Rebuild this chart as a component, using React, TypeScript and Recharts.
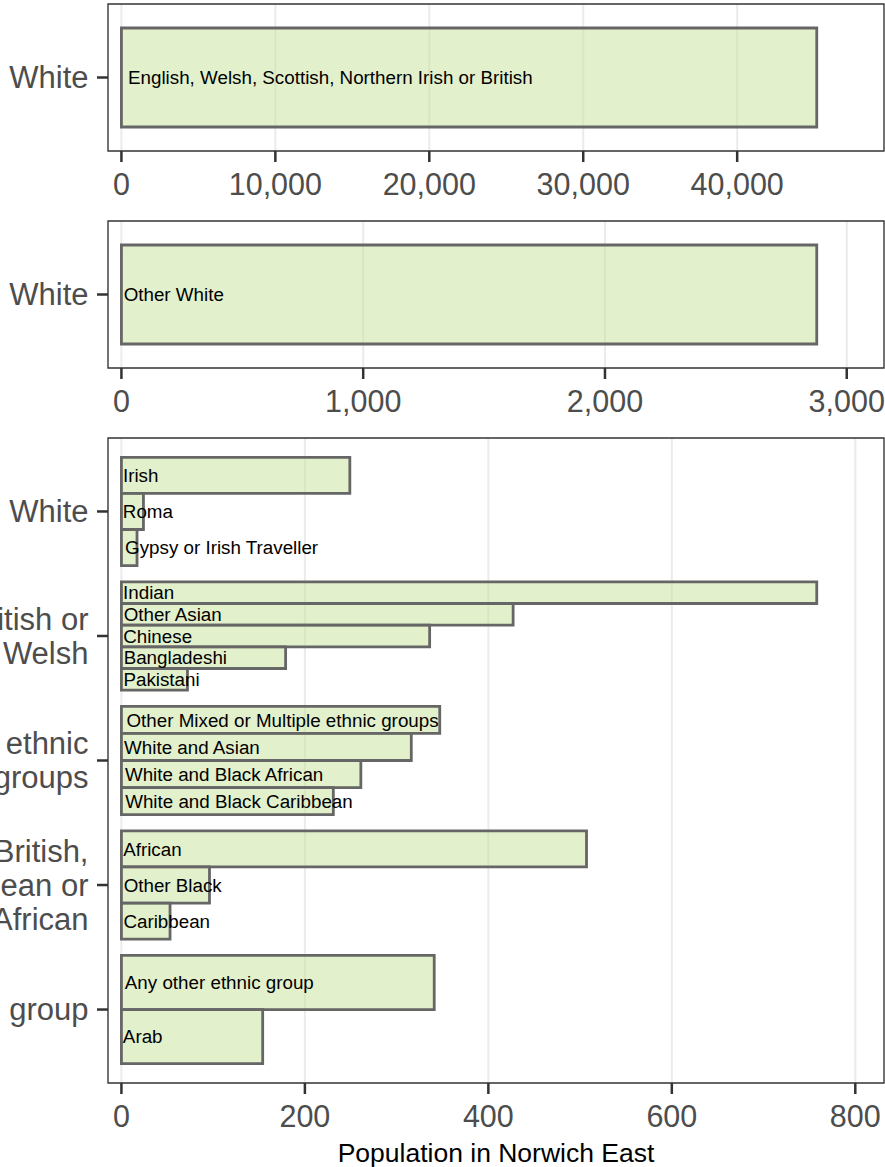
import React from 'react';
import {
  BarChart,
  Bar,
  XAxis,
  YAxis,
  CartesianGrid,
  ComposedChart,
  ReferenceArea,
  Scatter,
  LabelList,
} from 'recharts';

// ---------- data ----------
// Panel 1
const p1Groups = ['White'];
const p1Labels = ['English, Welsh, Scottish, Northern Irish or British'];
const p1Values = [45170];
const p1Ticks = [0, 10000, 20000, 30000, 40000];

// Panel 2
const p2Groups = ['White'];
const p2Labels = ['Other White'];
const p2Values = [2876];
const p2Ticks = [0, 1000, 2000, 3000];

// Panel 3
const p3GroupNames = [
  'White',
  'Asian, Asian British or Asian Welsh',
  'Mixed or Multiple ethnic groups',
  'Black, Black British, Black Welsh, Caribbean or African',
  'Other ethnic group',
];
const p3Sub = [
  'Irish',
  'Roma',
  'Gypsy or Irish Traveller',
  'Indian',
  'Other Asian',
  'Chinese',
  'Bangladeshi',
  'Pakistani',
  'Other Mixed or Multiple ethnic groups',
  'White and Asian',
  'White and Black African',
  'White and Black Caribbean',
  'African',
  'Other Black',
  'Caribbean',
  'Any other ethnic group',
  'Arab',
];
const p3SubGroup = [0, 0, 0, 1, 1, 1, 1, 1, 2, 2, 2, 2, 3, 3, 3, 4, 4];
const p3Values = [249, 24, 17, 758, 427, 336, 179, 72, 347, 316, 261, 231, 507, 96, 53, 341, 154];
const p3Ticks = [0, 200, 400, 600, 800];
const xTitle = 'Population in Norwich East';

// ---------- style ----------
const FONT = '"Liberation Sans", Arial, Helvetica, sans-serif';
const FILL = '#C7E19A';
const STROKE = '#666666';
const BORDER = '#333333';
const TICK_TEXT = '#4d4d4d';
const CHART_LEFT = -200;
const CHART_W = 1085;
const Y_AXIS_W = 308;
const Y_FONT = 31;
const X_FONT = 30.5;

const wrap = (s: string, width = 25): string[] => {
  const words = s.split(' ');
  const lines: string[] = [];
  let cur = '';
  words.forEach((w) => {
    if (!cur) cur = w;
    else if ((cur + ' ' + w).length <= width) cur = cur + ' ' + w;
    else {
      lines.push(cur);
      cur = w;
    }
  });
  if (cur) lines.push(cur);
  return lines;
};

const domainFor = (max: number): [number, number] => [-0.0193 * max, 1.0967 * max];
const fmt = (v: number) => Number(v).toLocaleString('en-US');
const labelOffset = (s: string) => 1 + s.length * 0.11;

const makeTick = (getText: (v: any) => string) => (props: any) => {
  const { x, y, payload } = props;
  const lines = wrap(getText(payload.value));
  const n = lines.length;
  return (
    <text x={x} y={y} textAnchor="end" fill={TICK_TEXT} fontSize={Y_FONT} fontFamily={FONT}>
      {lines.map((l, i) => (
        <tspan key={i} x={x} y={y + (i - (n - 1) / 2) * 34 + 0.35 * Y_FONT}>
          {l}
        </tspan>
      ))}
    </text>
  );
};

const tickLineStyle = { stroke: BORDER, strokeWidth: 2.5 };

function SinglePanel({
  top,
  height,
  marginTop,
  groups,
  labels,
  values,
  ticks,
}: {
  top: number;
  height: number;
  marginTop: number;
  groups: string[];
  labels: string[];
  values: number[];
  ticks: number[];
}) {
  const data = groups.map((g, i) => ({ group: g, label: labels[i], value: values[i] }));
  const dom = domainFor(Math.max(...values));
  return (
    <div style={{ position: 'absolute', left: CHART_LEFT, top }}>
      <BarChart
        width={CHART_W}
        height={height}
        data={data}
        layout="vertical"
        margin={{ top: marginTop, right: 1, bottom: 0, left: 0 }}
      >
        <CartesianGrid horizontal={false} stroke="#ebebeb" strokeWidth={2} />
        <XAxis
          type="number"
          dataKey="value"
          domain={dom}
          allowDataOverflow
          ticks={ticks}
          interval={0}
          tickFormatter={fmt}
          height={60}
          axisLine={false}
          tickSize={11}
          tickMargin={11.5}
          tickLine={tickLineStyle}
          tick={{ fill: TICK_TEXT, fontSize: X_FONT, fontFamily: FONT }}
        />
        <YAxis
          type="category"
          dataKey="group"
          width={Y_AXIS_W}
          axisLine={false}
          tickSize={11}
          tickMargin={8.5}
          tickLine={tickLineStyle}
          tick={makeTick((v) => String(v))}
        />
        <Bar
          dataKey="value"
          barSize={99}
          fill={FILL}
          fillOpacity={0.5}
          stroke={STROKE}
          strokeWidth={2.8}
          isAnimationActive={false}
        >
          <LabelList
            dataKey="label"
            position="insideLeft"
            offset={labelOffset(labels[0])}
            fill="#000"
            fontSize={18.8}
            fontFamily={FONT}
          />
        </Bar>
        <ReferenceArea
          x1={dom[0]}
          x2={dom[1]}
          fill="none"
          stroke={BORDER}
          strokeWidth={1.3}
          ifOverflow="visible"
        />
      </BarChart>
    </div>
  );
}

function GroupedPanel({ top }: { top: number }) {
  const span = 0.87;
  const rows = p3Sub.map((name, i) => {
    const g = p3SubGroup[i];
    const members = p3SubGroup.map((gg, k) => (gg === g ? k : -1)).filter((k) => k >= 0);
    const n = members.length;
    const j = members.indexOf(i);
    const y1 = g + 1 - span / 2 + (j * span) / n;
    const y2 = y1 + span / n;
    return { name, value: p3Values[i], y1, y2, pos: (y1 + y2) / 2 };
  });
  const dom = domainFor(Math.max(...p3Values));
  const yTicks = p3GroupNames.map((_, i) => i + 1);
  return (
    <div style={{ position: 'absolute', left: CHART_LEFT, top }}>
      <ComposedChart
        width={CHART_W}
        height={739}
        data={rows}
        margin={{ top: 10, right: 1, bottom: 0, left: 0 }}
      >
        <CartesianGrid horizontal={false} stroke="#ebebeb" strokeWidth={2} />
        <XAxis
          type="number"
          dataKey="value"
          domain={dom}
          allowDataOverflow
          ticks={p3Ticks}
          interval={0}
          tickFormatter={fmt}
          height={84}
          axisLine={false}
          tickSize={11}
          tickMargin={11.5}
          tickLine={tickLineStyle}
          tick={{ fill: TICK_TEXT, fontSize: X_FONT, fontFamily: FONT }}
          label={{
            value: xTitle,
            position: 'insideBottom',
            offset: 5,
            fill: '#000',
            fontSize: 26.5,
            fontFamily: FONT,
          }}
        />
        <YAxis
          type="number"
          dataKey="pos"
          domain={[0.41, 5.59]}
          reversed
          allowDataOverflow
          ticks={yTicks}
          interval={0}
          width={Y_AXIS_W}
          axisLine={false}
          tickSize={11}
          tickMargin={8.5}
          tickLine={tickLineStyle}
          tick={makeTick((v) => p3GroupNames[Number(v) - 1])}
        />
        <Scatter dataKey="pos" fill="none" shape={() => <g />} isAnimationActive={false} />
        {rows.map((r) => (
          <ReferenceArea
            key={r.name}
            x1={0}
            x2={r.value}
            y1={r.y1}
            y2={r.y2}
            fill={FILL}
            fillOpacity={0.5}
            stroke={STROKE}
            strokeWidth={2.8}
            strokeOpacity={1}
            ifOverflow="visible"
            label={{
              value: r.name,
              position: 'insideLeft',
              offset: labelOffset(r.name),
              fill: '#000',
              fontSize: 18.8,
              fontFamily: FONT,
            }}
          />
        ))}
        <ReferenceArea
          x1={dom[0]}
          x2={dom[1]}
          y1={0.41}
          y2={5.59}
          fill="none"
          stroke={BORDER}
          strokeWidth={1.3}
          ifOverflow="visible"
        />
      </ComposedChart>
    </div>
  );
}

export default function App() {
  return (
    <div
      style={{
        position: 'absolute',
        left: 0,
        top: 0,
        width: 885,
        height: 1167,
        overflow: 'hidden',
        background: '#fff',
        fontFamily: FONT,
      }}
    >
      <SinglePanel
        top={0}
        height={211}
        marginTop={4}
        groups={p1Groups}
        labels={p1Labels}
        values={p1Values}
        ticks={p1Ticks}
      />
      <SinglePanel
        top={211}
        height={217}
        marginTop={10}
        groups={p2Groups}
        labels={p2Labels}
        values={p2Values}
        ticks={p2Ticks}
      />
      <GroupedPanel top={428} />
    </div>
  );
}
